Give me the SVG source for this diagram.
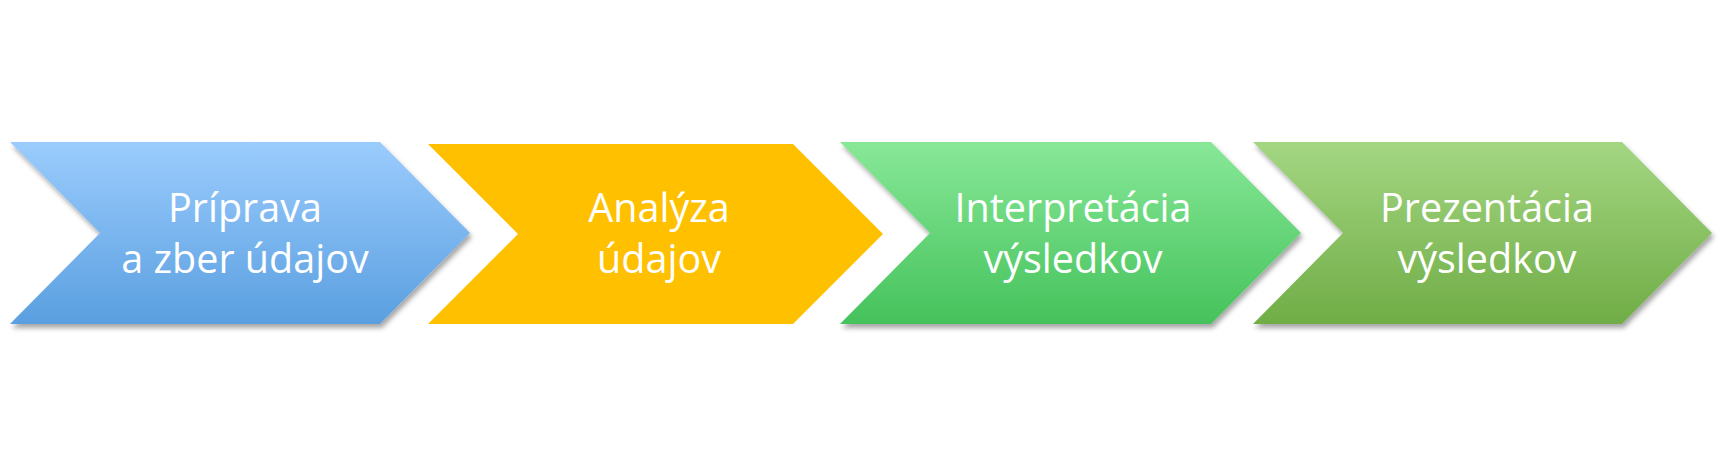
<svg xmlns="http://www.w3.org/2000/svg" width="1723" height="470" viewBox="0 0 1723 470">
  <defs>
    <linearGradient id="gBlue" x1="0" y1="0" x2="0" y2="1">
      <stop offset="0" stop-color="#9BCCFD"/>
      <stop offset="1" stop-color="#5A9FE0"/>
    </linearGradient>
    <linearGradient id="gGreen" x1="0" y1="0" x2="0" y2="1">
      <stop offset="0" stop-color="#88E898"/>
      <stop offset="1" stop-color="#45C25B"/>
    </linearGradient>
    <linearGradient id="gOlive" x1="0" y1="0" x2="0" y2="1">
      <stop offset="0" stop-color="#A4D682"/>
      <stop offset="1" stop-color="#70AD46"/>
    </linearGradient>
    <filter id="shadow" x="-5%" y="-10%" width="115%" height="125%">
      <feDropShadow dx="2" dy="4" stdDeviation="2.5" flood-color="#000" flood-opacity="0.35"/>
    </filter>
  </defs>
  <style>
    .lbl { font-family: "Open Sans", "Noto Sans", "Liberation Sans", sans-serif; font-size: 39.5px; fill: #FFFFFF; text-anchor: middle; }
  </style>
  <rect width="1723" height="470" fill="#FFFFFF"/>
  <g id="node1">
    <polygon points="10,142 380,142 470,233 380,324 10,324 100,233" fill="url(#gBlue)" filter="url(#shadow)"/>
    <text class="lbl" x="245" y="222">Príprava</text>
    <text class="lbl" x="245" y="273">a zber údajov</text>
  </g>
  <g id="node2">
    <polygon points="428,144 793,144 883,234 793,324 428,324 518,234" fill="#FFC000"/>
    <text class="lbl" x="659" y="222">Analýza</text>
    <text class="lbl" x="659" y="273">údajov</text>
  </g>
  <g id="node3">
    <polygon points="840,142 1211,142 1301,233 1211,324 840,324 930,233" fill="url(#gGreen)" filter="url(#shadow)"/>
    <text class="lbl" x="1073" y="222">Interpretácia</text>
    <text class="lbl" x="1073" y="273">výsledkov</text>
  </g>
  <g id="node4">
    <polygon points="1253,142 1622,142 1712,233 1622,324 1253,324 1343,233" fill="url(#gOlive)" filter="url(#shadow)"/>
    <text class="lbl" x="1487" y="222">Prezentácia</text>
    <text class="lbl" x="1487" y="273">výsledkov</text>
  </g>
  <g id="connectors"/>
</svg>
